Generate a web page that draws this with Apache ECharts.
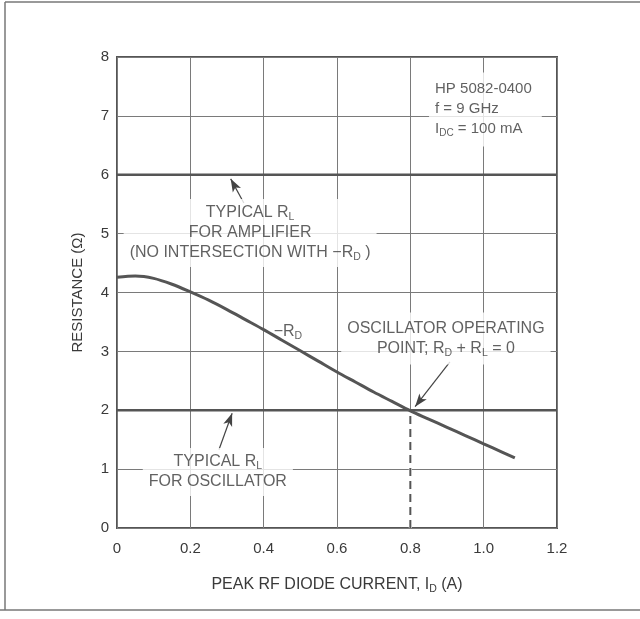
<!DOCTYPE html>
<html>
<head>
<meta charset="utf-8">
<script src="https://cdn.jsdelivr.net/npm/echarts@6/dist/echarts.min.js"></script>
<style>
  html, body { margin: 0; padding: 0; background: #fff; }
  #chart { width: 640px; height: 619px; }
</style>
</head>
<body>
<div id="chart"></div>
<script>
// Peak RF diode current (A) and the negative diode resistance -R_D (ohm)
const currentA = [0, 0.05, 0.1, 0.15, 0.2, 0.25, 0.3, 0.35, 0.4, 0.45, 0.5, 0.55,
                  0.6, 0.65, 0.7, 0.75, 0.8, 0.85, 0.9, 0.95, 1.0, 1.05, 1.085];
const negRd    = [4.26, 4.28, 4.24, 4.14, 4.01, 3.87, 3.71, 3.54, 3.37, 3.19, 3.01, 2.83,
                  2.65, 2.48, 2.31, 2.15, 1.99, 1.85, 1.71, 1.57, 1.43, 1.29, 1.19];

// Typical load resistances (ohm)
const rlAmplifier = 6;
const rlOscillator = 2;

// Oscillator operating point: R_D + R_L = 0
const opCurrent = 0.8;
const opResistance = 2;

// Axis ranges and tick labels
const xRange = [0, 1.2];
const xStep = 0.2;
const xTickLabels = ['0', '0.2', '0.4', '0.6', '0.8', '1.0', '1.2'];
const yRange = [0, 8];
const yStep = 1;

const FONT = 'Liberation Sans';
const INK = '#3a3a3a';
const LINE = '#555';

// t: main text, s: subscript; the "sm" pair is used by the parameter block
const richStyles = {
  t:  { fontFamily: FONT, fontSize: 16, color: INK, lineHeight: 20 },
  s:  { fontFamily: FONT, fontSize: 10.5, color: INK, lineHeight: 10, verticalAlign: 'bottom' },
  tm: { fontFamily: FONT, fontSize: 15, color: INK, lineHeight: 20 },
  sm: { fontFamily: FONT, fontSize: 10, color: INK, lineHeight: 10, verticalAlign: 'bottom' }
};

// Annotation texts, anchored in data coordinates
const notes = [
  { at: [0.363, 5.01], align: 'center', pad: [4, 6, 4, 6],
    text: '{t|TYPICAL R}{s|L}\n{t|FOR AMPLIFIER}\n{t|(NO INTERSECTION WITH −R}{s|D}{t| )}' },
  { at: [0.275, 0.95], align: 'center', pad: [4, 6, 4, 6],
    text: '{t|TYPICAL R}{s|L}\n{t|FOR OSCILLATOR}' },
  { at: [0.897, 3.22], align: 'center', pad: [6, 6, 6, 6],
    text: '{t|OSCILLATOR OPERATING}\n{t|POINT; R}{s|D}{t| + R}{s|L}{t| = 0}' },
  { at: [0.851, 7.11], align: 'left', pad: [6, 10, 8, 6],
    text: '{tm|HP 5082-0400}\n{tm|f = 9 GHz}\n{tm|I}{sm|DC}{tm| = 100 mA}' },
  { at: [0.466, 3.33], align: 'center', pad: 0, bg: 'transparent',
    text: '{t|−R}{s|D}' }
];

// Arrows: [tail, tip]
const arrows = [
  [[0.346, 5.52], [0.310, 5.93]],
  [[0.278, 1.33], [0.314, 1.95]],
  [[0.908, 2.82], [0.813, 2.06]]
];

const curveData = currentA.map((x, i) => [x, negRd[i]]);

const noteSeries = notes.map(n => ({
  type: 'scatter',
  z: 5,
  symbolSize: 0,
  silent: true,
  data: [n.at],
  label: {
    show: true,
    position: 'inside',
    align: n.align,
    verticalAlign: 'middle',
    formatter: () => n.text,
    rich: richStyles,
    backgroundColor: n.bg || '#fff',
    padding: n.pad
  }
}));

const option = {
  animation: false,
  backgroundColor: '#fff',
  grid: {
    left: 117, top: 57, right: 83, bottom: 91,
    show: true, borderColor: '#555', borderWidth: 2, backgroundColor: 'transparent'
  },
  xAxis: {
    type: 'value',
    min: xRange[0], max: xRange[1], interval: xStep,
    name: '{t|PEAK RF DIODE CURRENT, I}{s|D}{t| (A)}',
    nameLocation: 'middle',
    nameGap: 47,
    nameTextStyle: { rich: richStyles },
    axisLine: { show: false },
    axisTick: { show: false },
    axisLabel: {
      margin: 13, fontFamily: FONT, fontSize: 15, color: INK,
      formatter: v => xTickLabels[Math.round(v / xStep)]
    },
    splitLine: { show: true, lineStyle: { color: '#7a7a7a', width: 1 } }
  },
  yAxis: {
    type: 'value',
    min: yRange[0], max: yRange[1], interval: yStep,
    name: 'RESISTANCE (Ω)',
    nameLocation: 'middle',
    nameGap: 32,
    nameTextStyle: { fontFamily: FONT, fontSize: 15, color: INK },
    axisLine: { show: false },
    axisTick: { show: false },
    axisLabel: { margin: 8, fontFamily: FONT, fontSize: 15, color: INK },
    splitLine: { show: true, lineStyle: { color: '#7a7a7a', width: 1 } }
  },
  series: [
    {
      // typical R_L for amplifier
      type: 'line', symbol: 'none', silent: true, z: 3,
      data: [[xRange[0], rlAmplifier], [xRange[1], rlAmplifier]],
      lineStyle: { color: LINE, width: 2.5 }
    },
    {
      // typical R_L for oscillator, with the annotation arrows
      type: 'line', symbol: 'none', silent: true, z: 3,
      data: [[xRange[0], rlOscillator], [xRange[1], rlOscillator]],
      lineStyle: { color: LINE, width: 2.5 },
      markLine: {
        silent: true,
        animation: false,
        symbol: ['none', 'arrow'],
        symbolSize: [0, 10],
        label: { show: false },
        lineStyle: { color: '#444', width: 1.2, type: 'solid' },
        data: arrows.map(a => [
          { coord: a[0], symbol: 'none' },
          { coord: a[1], symbol: 'arrow', symbolSize: [7, 13] }
        ])
      }
    },
    {
      // clears the grid line beneath the dashed drop line
      type: 'line', symbol: 'none', silent: true, z: 3,
      data: [[opCurrent, 0], [opCurrent, opResistance]],
      lineStyle: { color: '#fff', width: 3 }
    },
    {
      type: 'line', symbol: 'none', silent: true, z: 4,
      data: [[opCurrent, 0], [opCurrent, opResistance]],
      lineStyle: { color: LINE, width: 2, type: [8, 5] }
    },
    {
      // -R_D curve
      type: 'line', symbol: 'none', silent: true, z: 4,
      smooth: 0.3,
      data: curveData,
      lineStyle: { color: LINE, width: 3 }
    }
  ].concat(noteSeries),
  graphic: [
    { type: 'line', silent: true, shape: { x1: 5, y1: 2, x2: 5, y2: 610 }, style: { stroke: '#777', lineWidth: 1.5 } },
    { type: 'line', silent: true, shape: { x1: 5, y1: 2, x2: 640, y2: 2 }, style: { stroke: '#777', lineWidth: 1.5 } },
    { type: 'line', silent: true, shape: { x1: 0, y1: 610, x2: 640, y2: 610 }, style: { stroke: '#777', lineWidth: 1.5 } }
  ]
};

const chart = echarts.init(document.getElementById('chart'), null, { renderer: 'canvas' });
chart.setOption(option);
</script>
</body>
</html>
